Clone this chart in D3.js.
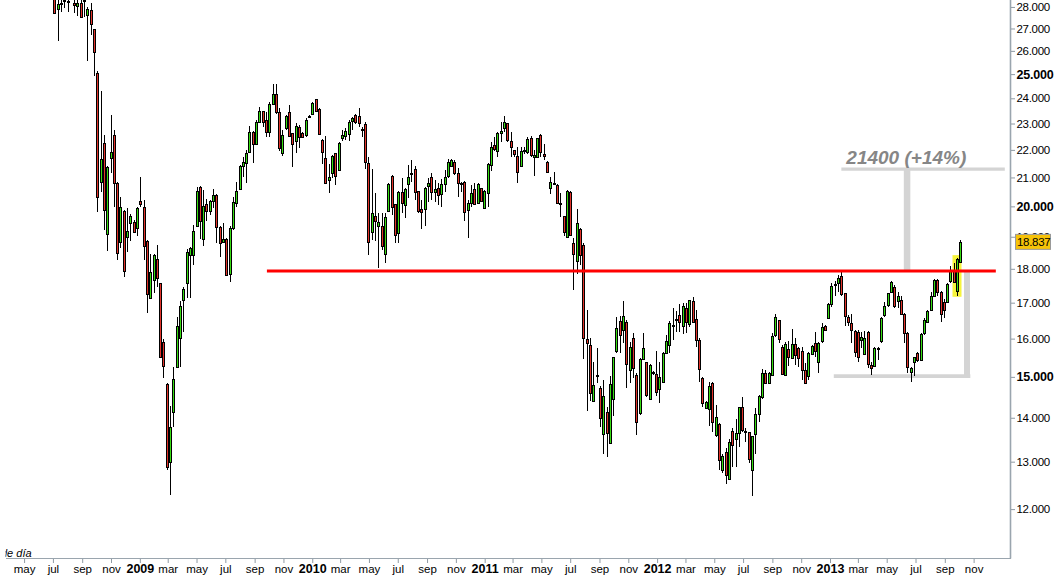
<!DOCTYPE html>
<html><head><meta charset="utf-8">
<script src="https://cdn.jsdelivr.net/npm/d3@7"></script>
<style>body{margin:0;background:#fff}svg{display:block}</style>
</head><body>
<svg id="chart" width="1058" height="578"></svg>
<script>
// ---------------- DATA (weekly candles, first week 2008-07-04) ----------------
const open = [28480,27890,28140,28350,28280,28500,28210,28050,28210,28350,27610,27860,26970,25040,20830,22250,19080,21690,22560,20820,
18840,19850,19000,19460,19470,19280,20180,19970,18870,17130,17660,18290,17570,15900,14820,13000,14130,15260,16010,17080,
17570,18420,18430,19360,20670,18920,20080,19850,20170,20390,19330,18840,18920,17840,19280,20140,20590,21390,21550,21910,
22670,22210,23050,23490,23140,22670,23770,24170,23440,21880,22820,23440,22630,22330,22880,22630,22560,23260,23360,23960,
23560,22370,21690,20940,21150,21880,21270,22440,22520,22600,23110,23340,23300,22790,22970,21510,19150,19680,19330,19350,
18450,19860,21050,20080,19110,20500,20050,20760,21130,21290,20530,19900,19900,20710,21010,20470,20640,20410,20800,21030,
21420,21550,21170,20790,20850,19860,20140,20590,20110,20620,19970,20470,21470,22180,21940,22630,22820,23010,22330,22000,
21780,21420,21940,21900,22440,21730,21750,22560,21840,21570,20620,20800,20740,20110,19680,19010,20480,18790,18220,19240,
18740,15990,15830,14410,15010,14710,13620,14130,13410,14450,15650,16480,16240,16450,15180,16010,15050,14100,15450,15370,
14440,15100,15070,14690,14860,15610,15810,16370,16520,16650,16350,16840,16400,17050,16530,15960,14980,14220,14210,14840,
13600,13850,12820,13220,12620,13700,13510,13640,14250,13700,13660,12830,13640,14090,14520,15110,14860,15050,16100,16510,
15780,15050,15720,15480,15850,15740,15670,15180,15010,15580,15880,15390,15920,16350,16560,16980,17510,17570,17790,17270,
16600,16420,16220,16190,15960,15610,16190,15300,15300,15730,15940,16650,16910,17300,17450,17050,17080,16680,16150,15120,
15360,15610,15450,16150,16460,16790,17190,17660,17320,17030,17030,17640,17940,17320,18220];
const high = [28720,28430,28570,28600,28500,28800,28480,28430,28480,28550,28020,28210,26990,25140,24300,22560,21410,23340,22750,20840,
20330,19880,19940,19750,19550,19980,21030,20220,18900,18460,18460,18740,17580,15980,14850,14280,15260,16600,17060,17450,
18600,18670,19370,20680,20700,20560,20250,20200,20590,20420,19340,19460,18950,19350,20330,20850,21450,21720,22000,22910,
22700,23140,23670,23510,23470,23870,24590,24590,23600,22750,23340,23730,22650,23040,22950,22690,23230,23340,23840,23990,
23600,22400,22520,21490,21820,21900,22310,22750,22820,23140,23270,23360,23600,22880,23070,21750,21290,20450,19770,19770,
19770,20820,21090,20080,20540,20970,20620,21450,21630,21410,20540,20220,20650,20970,21150,20910,20820,20940,21270,21660,
21670,21630,21330,20850,20880,20220,20740,20820,20820,20640,20560,21510,22310,22500,22690,23070,23300,23030,22690,22010,
22120,22120,22120,22500,22520,22000,22460,22600,22220,21600,21010,21190,20760,20450,19690,20560,20530,18950,19900,19280,
18800,16790,16010,15390,15740,14760,14920,14260,15030,15520,16600,16620,17050,16510,15920,16150,15110,15480,16150,15390,
15330,15150,15670,15390,15650,16100,16470,16840,16760,16960,17000,16980,17080,17160,16790,16010,15000,14400,14880,14880,
14310,13870,13180,13300,13510,13750,13960,14260,14490,13750,13670,13580,14230,14550,15190,15180,15130,16150,16680,16520,
15830,15900,15940,16250,16010,15770,15780,15360,15650,15830,16190,15920,16420,16370,17000,17570,17640,17810,17970,17290,
16650,16680,16240,16240,16190,16220,16220,15390,15780,15780,16590,17030,17290,17640,17520,17320,17180,16700,16190,15260,
15520,15650,16150,16560,16790,17320,17690,17690,17330,17100,17570,18090,18170,18320,18900];
const low = [27690,26440,27770,27940,27780,28380,27700,27580,27500,27530,25580,26710,24900,19820,20500,19220,18560,21170,19990,18270,
18640,17760,18530,18880,19110,19040,19990,18270,16700,17110,17270,17470,15480,14980,12820,12290,13790,15230,15260,16170,
17130,17130,18120,19330,18920,18710,19520,19710,19940,18790,18370,18790,17780,17610,19220,19970,20560,21030,20820,21880,
21530,22180,23040,22880,22500,22500,23730,23360,21940,21790,22750,22500,21390,21900,22060,22440,22500,23210,23340,23470,
22560,21470,20760,20450,20990,20740,21240,22350,22370,22350,22750,22990,22880,22480,21290,18430,18900,18880,18020,18580,
18170,19860,19710,18790,18810,19770,19620,20280,20850,20220,19790,19250,19360,20160,20220,20160,20050,19970,20480,20970,
21390,21090,20330,20500,19510,18970,19990,20030,20080,20140,19950,19990,21240,21940,21730,22310,22690,22310,21750,21750,
20800,21390,21850,21850,21750,21060,21750,21750,21630,21170,20410,20770,20080,19640,19030,19000,19030,17370,17840,18120,
15460,14170,14390,14390,14840,13790,13170,13100,13410,14030,15610,15610,15880,14710,14840,14960,13600,14060,15430,14510,
14430,15060,14530,14350,14840,15590,15610,15960,16190,16190,16120,16150,16330,16420,15770,14880,14260,14200,13810,13670,
13560,12820,12760,12530,12620,12890,12890,13330,13670,13450,12970,12260,13180,13910,14440,14840,14840,15030,16050,15880,
15050,15030,15280,15480,15300,15260,14920,14820,14920,15560,15520,15090,15880,16240,16530,16890,17180,17320,17180,16350,
16350,15880,15520,15390,15740,15560,15220,15050,15280,15430,15880,16600,16890,17270,16840,16840,16650,15880,15090,14880,
15010,15390,15430,16100,16420,16750,17180,17180,16460,16560,17000,17580,17570,17180,18190];
const close = [27720,28130,28200,28280,28220,28600,28130,28210,27530,28280,27890,27200,25940,20310,21660,19860,21370,21910,20820,18510,
19970,17940,19190,19680,19150,19940,20070,18690,17270,17910,18430,17720,15500,15260,12880,13780,14940,16350,16910,17390,
18510,18640,19190,20530,19520,20010,19860,20180,20390,19330,18830,18920,17810,19280,20140,20540,21410,21550,21900,22670,
22210,23050,23490,23070,22670,23770,24170,23440,22060,22560,23300,22520,22220,22920,22480,22480,23140,23300,23800,23490,
22590,21910,20800,21030,21780,21060,22270,22560,22720,23050,23220,23070,23010,22770,21530,18830,19770,19520,19470,18720,
19640,20770,19970,19060,20480,20140,20590,21010,21160,20470,19860,19800,20620,20820,20500,20590,20390,20760,21030,21550,
21630,21170,20820,20760,19820,20110,20470,20080,20760,20160,20540,21490,22120,22020,22630,22720,23050,22350,22120,21850,
21190,21970,21980,22400,21810,21810,22440,21940,21750,21210,20830,20820,20110,20090,19150,20530,19060,18430,19440,18400,
16020,15880,14590,14800,15040,13990,14520,13640,14820,15500,16280,16100,16630,15320,15770,15220,13910,15450,15740,14530,
15300,15120,14610,14990,15610,15940,16420,16330,16540,16460,16910,16460,17080,16460,15960,15190,14350,14370,14770,13890,
14010,13040,13120,12710,13430,13370,13640,14250,13700,13680,13050,13580,14100,14520,15110,14860,15110,16080,16600,15980,
15070,15850,15500,15850,15560,15480,15180,14840,15610,15800,15680,15890,16310,16250,16950,17490,17540,17720,17270,16600,
16460,16220,15650,15520,16040,16030,15330,15220,15760,15760,16560,16910,17270,17600,16890,17190,16680,16150,15260,15220,
15500,15420,16130,16510,16760,17190,17660,17320,16680,16790,17550,17940,17610,18290,18837];

const firstWeek = new Date(2008, 6, 4);
const monthNames = ["ene","feb","mar","abr","may","jun","jul","ago","sep","oct","nov","dic"];
const yTickValues = [12000,13000,14000,15000,16000,17000,18000,19000,20000,21000,22000,23000,24000,25000,26000,27000,28000];
const boldTickValues = [15000,20000,25000];
const lastPrice = 18837;
const supportLevel = 17930;
const targetLevel = 21300;
const baseLevel = 15020;
const targetLabel = "21400 (+14%)";
const periodLabel = "de día";
const supportSpan = [new Date(2009,8,27), new Date(2013,11,18)];
const targetSpan = [new Date(2013,0,25), new Date(2014,0,6)];
const targetBarDate = new Date(2013,5,13);
const baseSpan = [new Date(2013,0,9), new Date(2013,9,25)];
const baseBarDate = new Date(2013,9,18);
const highlightIndex = 273;
const highlightRange = [17170, 18420];

// ---------------- CHART ----------------
const W = 1058, H = 578, axisX = 1010, axisY = 558;
const svg = d3.select("#chart");
const x = d3.scaleTime().domain([new Date(2008,2,11), new Date(2014,0,17)]).range([0, axisX]);
const y = d3.scaleLog().domain([11050, 28330]).range([axisY, 0]);
const dates = open.map((_, i) => d3.timeDay.offset(firstWeek, 7 * i));
const candles = open.map((o, i) => ({date: dates[i], o, h: high[i], l: low[i], c: close[i]}));

const gray = "#d4d4d4";

// highlight behind candles
const hx = Math.round(x(dates[highlightIndex]));
svg.append("rect")
  .attr("x", hx - 4.5).attr("width", 9)
  .attr("y", y(highlightRange[1])).attr("height", y(highlightRange[0]) - y(highlightRange[1]))
  .attr("fill", "#f6f43c");

// gray target annotation
svg.append("rect").attr("x", x(targetBarDate) - 3.2).attr("width", 6.5)
  .attr("y", y(targetLevel)).attr("height", y(supportLevel) - y(targetLevel)).attr("fill", gray);
svg.append("line").attr("x1", x(targetSpan[0])).attr("x2", x(targetSpan[1]))
  .attr("y1", y(targetLevel)).attr("y2", y(targetLevel)).attr("stroke", gray).attr("stroke-width", 3.2);
svg.append("rect").attr("x", x(baseBarDate) - 3).attr("width", 6)
  .attr("y", y(supportLevel)).attr("height", y(baseLevel) - y(supportLevel)).attr("fill", gray);
svg.append("line").attr("x1", x(baseSpan[0])).attr("x2", x(baseSpan[1]))
  .attr("y1", y(baseLevel)).attr("y2", y(baseLevel)).attr("stroke", gray).attr("stroke-width", 3.6);
svg.append("text").attr("x", x(targetSpan[0]) + 5).attr("y", y(targetLevel) - 5.5)
  .attr("font-family", "Liberation Sans, Arial, sans-serif").attr("font-size", 19)
  .attr("font-weight", "bold").attr("font-style", "italic").attr("fill", "#868686")
  .text(targetLabel);

// candles
const cg = svg.append("g");
const cs = cg.selectAll("g").data(candles).join("g");
cs.append("line")
  .attr("x1", d => Math.round(x(d.date)) + 0.5).attr("x2", d => Math.round(x(d.date)) + 0.5)
  .attr("y1", d => y(d.h)).attr("y2", d => y(d.l))
  .attr("stroke", "#000").attr("stroke-width", 1).attr("shape-rendering", "crispEdges");
cs.append("rect")
  .attr("x", d => Math.round(x(d.date)) - 0.5).attr("width", 2)
  .attr("y", d => Math.round(y(Math.max(d.o, d.c))) + 0.5)
  .attr("height", d => Math.max(1, Math.round(Math.abs(y(d.o) - y(d.c)))))
  .attr("fill", d => d.c >= d.o ? "#36dc12" : "#e2332b")
  .attr("stroke", "#000").attr("stroke-width", 1).attr("shape-rendering", "crispEdges");

// red support line
svg.append("line").attr("x1", x(supportSpan[0])).attr("x2", x(supportSpan[1]))
  .attr("y1", y(supportLevel)).attr("y2", y(supportLevel))
  .attr("stroke", "#ff0000").attr("stroke-width", 3);

// white area right of axis / below axis
svg.append("rect").attr("x", axisX).attr("y", 0).attr("width", W - axisX).attr("height", H).attr("fill", "#fff");
svg.append("rect").attr("x", 0).attr("y", axisY).attr("width", W).attr("height", H - axisY).attr("fill", "#fff");

// Y axis
const fmt = d3.formatLocale({decimal: ",", thousands: ".", grouping: [3], currency: ["", ""]}).format(",");
const yAxis = d3.axisRight(y).tickValues(yTickValues).tickFormat(fmt).tickSize(5).tickPadding(1.5);
const yg = svg.append("g").attr("transform", `translate(${axisX},0)`).call(yAxis);
yg.select(".domain").remove();
yg.selectAll(".tick line").attr("stroke", "#8f9aa3");
yg.selectAll(".tick text")
  .attr("font-family", "Liberation Sans, Arial, sans-serif")
  .attr("font-size", d => boldTickValues.includes(d) ? 12.5 : 11.5)
  .attr("font-weight", d => boldTickValues.includes(d) ? "bold" : "normal")
  .attr("letter-spacing", d => boldTickValues.includes(d) ? -0.2 : -0.3)
  .attr("fill", "#000");
svg.append("line").attr("x1", axisX + 0.5).attr("x2", axisX + 0.5).attr("y1", 0).attr("y2", axisY + 0.5)
  .attr("stroke", "#9aa5ae").attr("stroke-width", 1.6);

// last price box (covers the 19.000 label, as in the original)
const ly = y(lastPrice);
svg.append("rect").attr("x", 1015.5).attr("y", ly - 7.5).attr("width", 35).attr("height", 15)
  .attr("fill", "#f7c308").attr("stroke", "#9a9a9a").attr("stroke-width", 1);
svg.append("text").attr("x", 1017).attr("y", ly).attr("dy", "0.35em")
  .attr("font-family", "Liberation Sans, Arial, sans-serif").attr("font-size", 11.5)
  .attr("letter-spacing", -0.3).attr("fill", "#000").text(fmt(lastPrice));

// X axis
const monthTicks = d3.timeMonth.every(2).range(new Date(2008,4,1), new Date(2013,11,1));
const xAxis = d3.axisBottom(x).tickValues(monthTicks).tickSize(5).tickPadding(1.5)
  .tickFormat(d => d.getMonth() === 0 ? String(d.getFullYear()) : monthNames[d.getMonth()]);
const xg = svg.append("g").attr("transform", `translate(0,${axisY})`).call(xAxis);
xg.select(".domain").remove();
xg.selectAll(".tick line").attr("stroke", "#8f9aa3");
xg.selectAll(".tick text")
  .attr("font-family", "Liberation Sans, Arial, sans-serif")
  .attr("font-size", d => d.getMonth() === 0 ? 12.5 : 11.5)
  .attr("font-weight", d => d.getMonth() === 0 ? "bold" : "normal")
  .attr("fill", "#000");
svg.append("line").attr("x1", 6).attr("x2", axisX + 1).attr("y1", axisY + 0.5).attr("y2", axisY + 0.5)
  .attr("stroke", "#9aa5ae").attr("stroke-width", 1.2);

// period caption (clipped at left like the original)
svg.append("clipPath").attr("id", "capclip").append("rect").attr("x", 5.5).attr("y", 540).attr("width", 60).attr("height", 18);
svg.append("text").attr("x", 1).attr("y", 556.5).attr("clip-path", "url(#capclip)")
  .attr("font-family", "Liberation Sans, Arial, sans-serif").attr("font-size", 11)
  .attr("font-style", "italic").attr("fill", "#000").text(periodLabel);
</script>
</body></html>
